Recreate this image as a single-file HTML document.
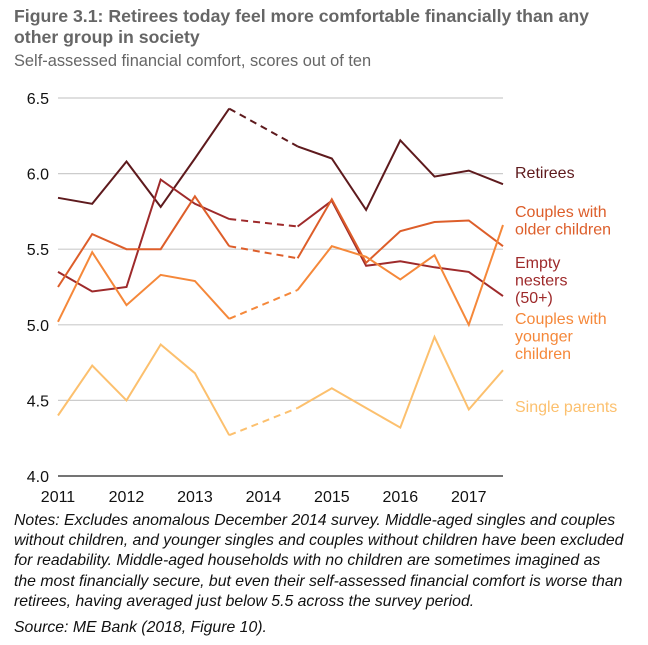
<!DOCTYPE html>
<html><head><meta charset="utf-8"><style>
body{margin:0;background:#fff;font-family:"Liberation Sans",Arial,sans-serif;}
#wrap{position:relative;width:648px;height:645px;overflow:hidden}
.t{position:absolute;white-space:nowrap}
</style></head><body>
<div id="wrap">
<div class="t" style="left:14px;top:6px;font-size:17.7px;font-weight:bold;color:#666;line-height:21px">Figure 3.1: Retirees today feel more comfortable financially than any<br>other group in society</div>
<div class="t" style="left:14px;top:52px;font-size:16.4px;color:#666">Self-assessed financial comfort, scores out of ten</div>
<svg id="chart" width="648" height="510" style="position:absolute;left:0;top:0"></svg>
<div class="t" style="left:14px;top:511px;font-size:15.8px;font-style:italic;color:#111;line-height:20.2px">Notes: Excludes anomalous December 2014 survey. Middle-aged singles and couples<br>without children, and younger singles and couples without children have been excluded<br>for readability. Middle-aged households with no children are sometimes imagined as<br>the most financially secure, but even their self-assessed financial comfort is worse than<br>retirees, having averaged just below 5.5 across the survey period.</div>
<div class="t" style="left:14px;top:619px;font-size:15.8px;font-style:italic;color:#111">Source: ME Bank (2018, Figure 10).</div>
</div>
<script>
const years=["2011","2012","2013","2014","2015","2016","2017"];
const yTicks=[4.0,4.5,5.0,5.5,6.0,6.5];
const retirees=[5.84,5.80,6.08,5.78,6.10,6.43,null,6.18,6.10,5.76,6.22,5.98,6.02,5.93];
const emptyNesters=[5.35,5.22,5.25,5.96,5.80,5.70,null,5.65,5.82,5.39,5.42,5.38,5.35,5.19];
const couplesOlder=[5.25,5.60,5.50,5.50,5.85,5.52,null,5.44,5.83,5.41,5.62,5.68,5.69,5.52];
const couplesYounger=[5.02,5.48,5.13,5.33,5.29,5.04,null,5.23,5.52,5.45,5.30,5.46,5.00,5.66];
const singleParents=[4.40,4.73,4.50,4.87,4.68,4.27,null,4.45,4.58,4.45,4.32,4.92,4.44,4.70];
const NS="http://www.w3.org/2000/svg";
const svg=document.getElementById('chart');
const X0=58,X1=503,Y0=476,Y1=98;
const xs=i=>X0+i*(X1-X0)/13;
const ys=v=>Y0-(v-4)/(6.5-4)*(Y0-Y1);
function mk(t,a){const e=document.createElementNS(NS,t);for(const k in a)e.setAttribute(k,a[k]);svg.appendChild(e);return e;}
yTicks.forEach(v=>{
 const l=mk('line',{x1:X0,x2:X1,y1:ys(v),y2:ys(v),stroke:v===4?'#222':'#ccc','stroke-width':v===4?1.3:1.2});
 
 
 const t=mk('text',{x:49,y:ys(v)+6,'text-anchor':'end','font-size':16,fill:'#111','font-family':'Liberation Sans'});
 t.textContent=v.toFixed(1);
 
 
});
years.forEach((y,i)=>{
 const t=mk('text',{x:xs(i*2),y:502,'text-anchor':'middle','font-size':16,fill:'#111','font-family':'Liberation Sans'});
 t.textContent=y;
 
 
});
const series=[[retirees,'#5e1a1d','Retirees'],[emptyNesters,'#9e2a2b','empty-nesters'],[couplesOlder,'#dd5e2a','couples-older'],[couplesYounger,'#f5883a','couples-younger'],[singleParents,'#fcc06e','single-parents']];
series.forEach(([d,c,n])=>{
 let solid='',dash='';let prev=null;
 d.forEach((v,i)=>{
  if(v===null)return;
  const p=xs(i).toFixed(1)+','+ys(v).toFixed(1);
  if(prev!==null&&i-prev>1){dash+='M'+xs(prev).toFixed(1)+','+ys(d[prev]).toFixed(1)+'L'+p;solid+='M'+p;}
  else solid+=(prev===null?'M':'L')+p;
  prev=i;
 });
 const a=mk('path',{d:solid,fill:'none',stroke:c,'stroke-width':2});
 
 
 const b=mk('path',{d:dash,fill:'none',stroke:c,'stroke-width':2,'stroke-dasharray':'7,5'});
 
 
});
const labels=[[['Retirees'],'#5e1a1d',178],[['Couples with','older children'],'#dd5e2a',217],[['Empty','nesters','(50+)'],'#9e2a2b',268],[['Couples with','younger','children'],'#f5883a',324],[['Single parents'],'#fcc06e',412]];
labels.forEach(([ls,c,y])=>{
 ls.forEach((s,j)=>{
  const t=mk('text',{x:515,y:y+j*17.5,'font-size':16,fill:c,'font-family':'Liberation Sans'});
  t.textContent=s;
  
  
 });
});
</script>
</body></html>
